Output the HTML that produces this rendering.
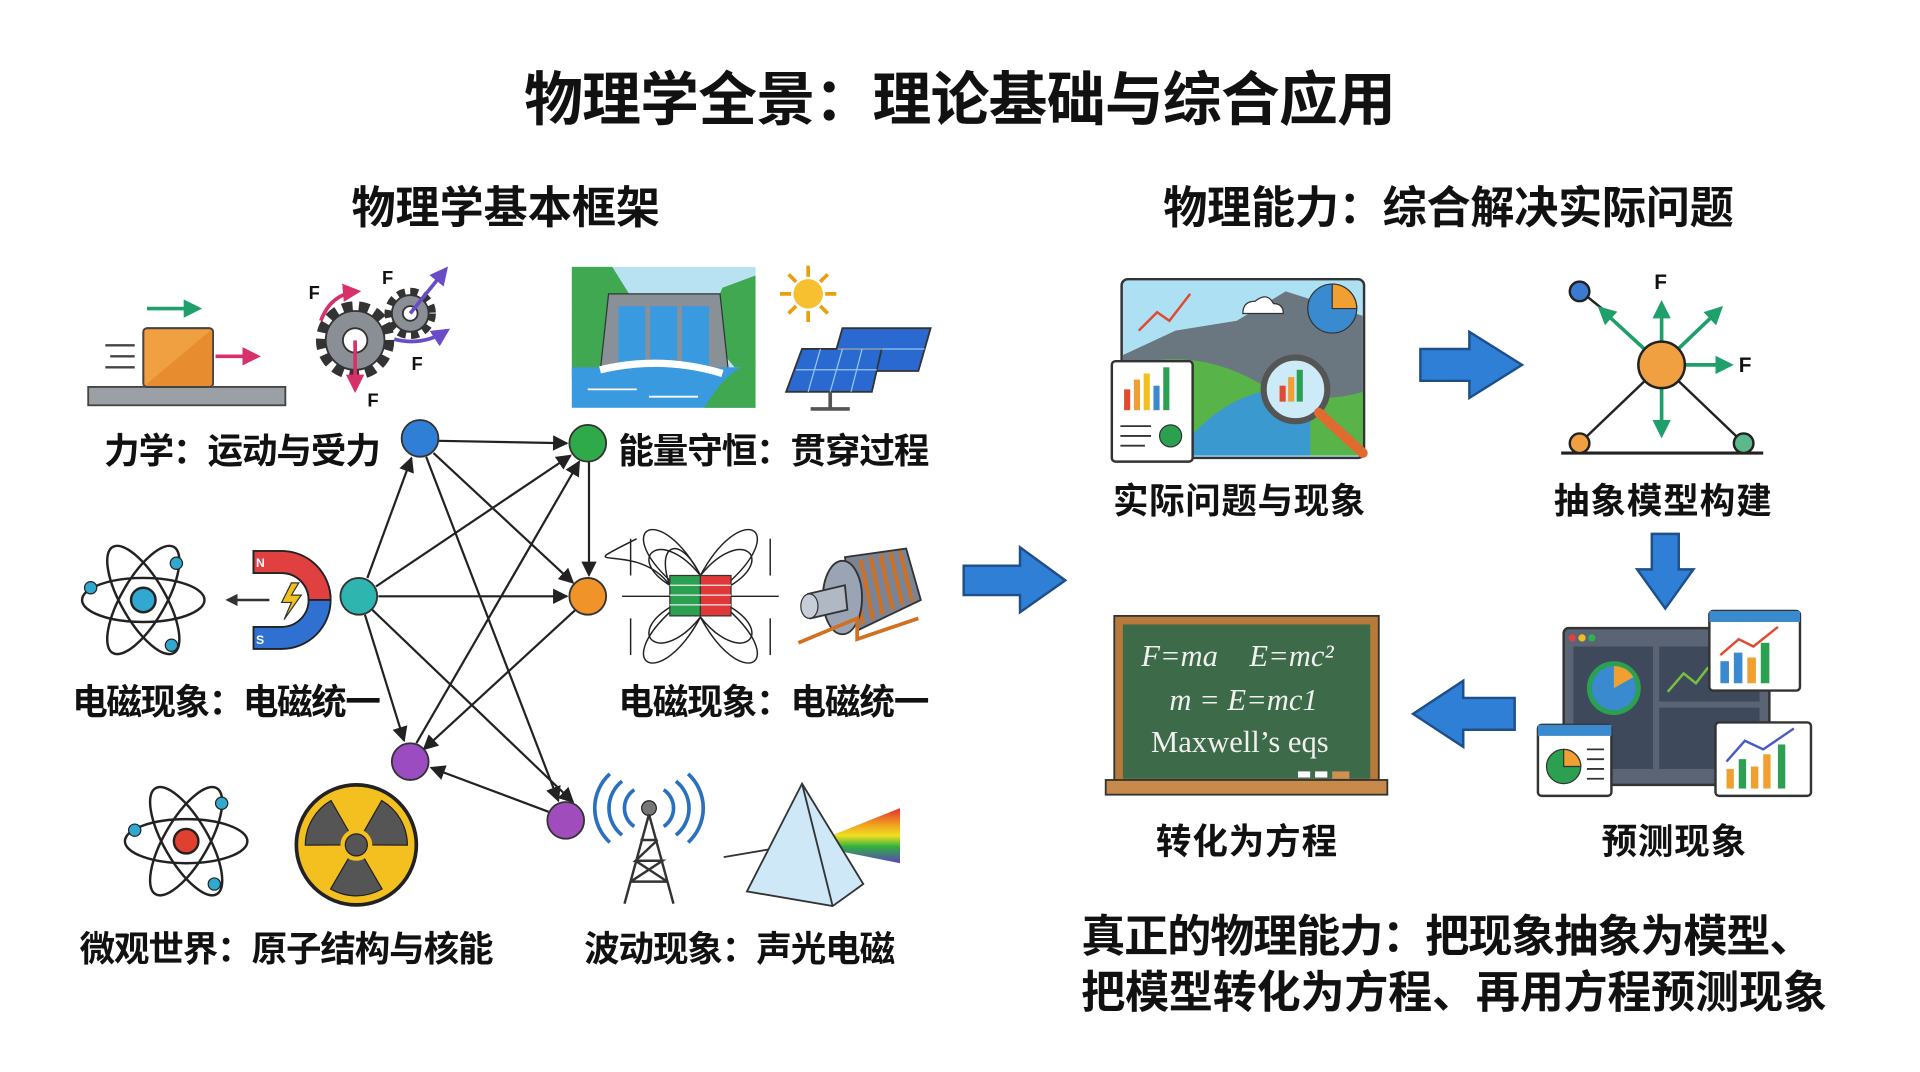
<!DOCTYPE html>
<html><head><meta charset="utf-8"><style>
html,body{margin:0;padding:0;background:#fff;}
svg{display:block;}
text{font-family:"Liberation Sans","Noto Sans CJK SC",sans-serif;font-weight:700;fill:#111;}
text.ser{font-family:"Liberation Serif",serif;font-weight:400;fill:#f0f0f0;}
</style></head><body>
<svg width="1920" height="1072" viewBox="0 0 1568 875.5" xmlns="http://www.w3.org/2000/svg">
<defs>
<marker id="ah" viewBox="0 0 10 10" refX="9" refY="5" markerWidth="7" markerHeight="7" orient="auto-start-reverse"><path d="M0,0L10,5L0,10z" fill="#222"/></marker>
<marker id="ag" viewBox="0 0 10 10" refX="8" refY="5" markerWidth="5" markerHeight="5" orient="auto"><path d="M0,0L10,5L0,10z" fill="#1fa06a"/></marker>
<marker id="ap" viewBox="0 0 10 10" refX="8" refY="5" markerWidth="5" markerHeight="5" orient="auto"><path d="M0,0L10,5L0,10z" fill="#d8306a"/></marker>
<marker id="av" viewBox="0 0 10 10" refX="8" refY="5" markerWidth="5" markerHeight="5" orient="auto"><path d="M0,0L10,5L0,10z" fill="#6a4cc8"/></marker>
<marker id="ak" viewBox="0 0 10 10" refX="8" refY="5" markerWidth="5" markerHeight="5" orient="auto"><path d="M0,0L10,5L0,10z" fill="#333"/></marker>
<linearGradient id="rb" x1="0" y1="0" x2="0" y2="1"><stop offset="0" stop-color="#e03030"/><stop offset="0.3" stop-color="#f0a020"/><stop offset="0.5" stop-color="#f0e020"/><stop offset="0.7" stop-color="#30b040"/><stop offset="1" stop-color="#6040c0"/></linearGradient>
</defs>
<rect width="1568" height="876" fill="#fff"/>

<text x="784" y="98" font-size="48" text-anchor="middle" textLength="712">物理学全景：理论基础与综合应用</text>
<text x="413" y="182" font-size="36" text-anchor="middle" textLength="252">物理学基本框架</text>
<text x="1183" y="182" font-size="36" text-anchor="middle" textLength="466">物理能力：综合解决实际问题</text>

<g font-size="29">
<text x="198" y="378" text-anchor="middle" textLength="226">力学：运动与受力</text>
<text x="632" y="378" text-anchor="middle" textLength="254">能量守恒：贯穿过程</text>
<text x="185" y="583" text-anchor="middle" textLength="252">电磁现象：电磁统一</text>
<text x="632" y="583" text-anchor="middle" textLength="254">电磁现象：电磁统一</text>
<text x="234" y="785" text-anchor="middle" textLength="338">微观世界：原子结构与核能</text>
<text x="604" y="785" text-anchor="middle" textLength="254">波动现象：声光电磁</text>
</g>

<g stroke="#222" stroke-width="1.8" fill="none" marker-end="url(#ah)">
<line x1="358" y1="360" x2="463" y2="362"/>
<line x1="354" y1="370" x2="468" y2="476"/>
<line x1="348" y1="373" x2="456" y2="654"/>
<line x1="300" y1="472" x2="336" y2="374"/>
<line x1="307" y1="479" x2="466" y2="372"/>
<line x1="309" y1="487" x2="463" y2="487"/>
<line x1="298" y1="502" x2="330" y2="605"/>
<line x1="304" y1="498" x2="468" y2="655"/>
<line x1="481" y1="377" x2="481" y2="470"/>
<line x1="340" y1="607" x2="473" y2="377"/>
<line x1="470" y1="498" x2="346" y2="612"/>
<line x1="448" y1="663" x2="352" y2="627"/>
</g>
<g stroke="#333" stroke-width="1.5">
<circle cx="343" cy="358" r="15" fill="#2f7fd6"/>
<circle cx="480" cy="362" r="15" fill="#2faa4a"/>
<circle cx="293" cy="487" r="15" fill="#2fb5b0"/>
<circle cx="480" cy="487" r="15" fill="#f0942a"/>
<circle cx="335" cy="622" r="15" fill="#9a4cc0"/>
<circle cx="462" cy="670" r="15" fill="#a04cbc"/>
</g>

<!-- Block -->
<rect x="72" y="316" width="161" height="15" fill="#9aa0a6" stroke="#444" stroke-width="1.5"/>
<rect x="117" y="268" width="57" height="48" rx="3" fill="#f0a040" stroke="#444" stroke-width="1.5"/>
<path d="M117,316 L174,268 L174,316Z" fill="#e88c30"/>
<rect x="117" y="268" width="57" height="48" rx="3" fill="none" stroke="#444" stroke-width="1.5"/>
<g stroke="#444" stroke-width="2"><line x1="86" y1="282" x2="110" y2="282"/><line x1="90" y1="291" x2="110" y2="291"/><line x1="86" y1="300" x2="110" y2="300"/></g>
<line x1="120" y1="252" x2="162" y2="252" stroke="#1fa06a" stroke-width="3" marker-end="url(#ag)"/>
<line x1="176" y1="291" x2="210" y2="291" stroke="#d8306a" stroke-width="3" marker-end="url(#ap)"/>

<!-- Gears -->
<g fill="#8a8f96" stroke="#333" stroke-width="1.5">
<circle cx="290" cy="278" r="27" stroke-dasharray="8 5" stroke-width="10" fill="none"/>
<circle cx="290" cy="278" r="24"/>
<circle cx="290" cy="278" r="10" fill="#fff"/>
<circle cx="335" cy="256" r="17" stroke-dasharray="6 4" stroke-width="8" fill="none"/>
<circle cx="335" cy="256" r="15"/>
<circle cx="335" cy="256" r="6" fill="#fff"/>
</g>
<path d="M262,262 Q270,240 292,238" stroke="#d8306a" stroke-width="3" fill="none" marker-end="url(#ap)"/>
<line x1="290" y1="278" x2="290" y2="318" stroke="#d8306a" stroke-width="3" marker-end="url(#ap)"/>
<line x1="335" y1="256" x2="364" y2="220" stroke="#6a4cc8" stroke-width="3" marker-end="url(#av)"/>
<path d="M322,277 Q345,283 365,270" stroke="#6a4cc8" stroke-width="3" fill="none" marker-end="url(#av)"/>
<g font-size="15"><text x="252" y="244">F</text><text x="312" y="232">F</text><text x="336" y="302">F</text><text x="300" y="332">F</text></g>

<!-- Dam -->
<rect x="467" y="218" width="150" height="115" fill="#b8e2f2"/>
<path d="M467,218 L500,218 L520,250 L500,300 L467,310Z" fill="#3fa850"/>
<path d="M617,225 L590,235 L575,270 L600,300 L617,300Z" fill="#3fa850"/>
<path d="M497,240 L588,240 L595,305 L490,305Z" fill="#8a9098" stroke="#333"/>
<rect x="505" y="250" width="22" height="50" fill="#3a9ae0"/><rect x="531" y="250" width="22" height="50" fill="#3a9ae0"/><rect x="557" y="250" width="22" height="50" fill="#3a9ae0"/>
<rect x="467" y="300" width="150" height="33" fill="#3a9ae0"/>
<path d="M490,302 Q540,290 590,305" stroke="#fff" stroke-width="6" fill="none"/>
<g stroke="#fff" stroke-width="1.5"><line x1="480" y1="318" x2="520" y2="318"/><line x1="530" y1="324" x2="570" y2="324"/></g>
<path d="M575,333 Q595,300 617,295 L617,333Z" fill="#3fa850"/>

<!-- Sun & solar -->
<g stroke="#e8a010" stroke-width="3"><line x1="660" y1="217" x2="660" y2="263"/><line x1="637" y1="240" x2="683" y2="240"/><line x1="644" y1="224" x2="676" y2="256"/><line x1="676" y1="224" x2="644" y2="256"/></g>
<circle cx="660" cy="240" r="13" fill="#f6c030" stroke="#fff" stroke-width="2"/>
<path d="M688,268 L760,268 L750,303 L678,303Z" fill="#2a6ad0" stroke="#333" stroke-width="1.5"/>
<path d="M655,285 L720,285 L712,320 L642,320Z" fill="#2a6ad0" stroke="#333" stroke-width="1.5"/>
<g stroke="#9cc4f0" stroke-width="1"><line x1="650" y1="302" x2="716" y2="302"/><line x1="670" y1="285" x2="660" y2="320"/><line x1="688" y1="285" x2="678" y2="320"/><line x1="704" y1="285" x2="695" y2="320"/><line x1="684" y1="285" x2="755" y2="285"/></g>
<line x1="678" y1="320" x2="678" y2="333" stroke="#555" stroke-width="3"/><line x1="662" y1="334" x2="694" y2="334" stroke="#555" stroke-width="3"/>

<!-- Atom 1 -->
<g fill="none" stroke="#222" stroke-width="2">
<ellipse cx="117" cy="490" rx="50" ry="18"/>
<ellipse cx="117" cy="490" rx="50" ry="18" transform="rotate(60 117 490)"/>
<ellipse cx="117" cy="490" rx="50" ry="18" transform="rotate(120 117 490)"/>
</g>
<circle cx="117" cy="490" r="10" fill="#30a8d0" stroke="#222" stroke-width="2"/>
<circle cx="74" cy="480" r="5" fill="#30a8d0" stroke="#222"/><circle cx="144" cy="460" r="5" fill="#30a8d0" stroke="#222"/><circle cx="140" cy="527" r="5" fill="#30a8d0" stroke="#222"/>

<!-- Magnet -->
<path d="M207,450 L230,450 A40,40 0 0 1 230,530 L207,530 L207,512 L230,512 A22,22 0 0 0 230,468 L207,468Z" fill="#3070d0" stroke="#222" stroke-width="1.5"/>
<path d="M207,450 L230,450 A40,40 0 0 1 270,490 L252,490 A22,22 0 0 0 230,468 L207,468Z" fill="#e04040" stroke="#222" stroke-width="1.5"/>
<text x="209" y="463" font-size="10" style="fill:#fff">N</text><text x="209" y="526" font-size="10" style="fill:#fff">S</text>
<path d="M238,476 L230,492 L238,492 L232,506 L246,486 L238,486 L244,476Z" fill="#f0c020" stroke="#333"/>
<line x1="220" y1="490" x2="186" y2="490" stroke="#333" stroke-width="2" marker-end="url(#ak)"/>

<!-- Field lines -->
<g fill="none" stroke="#222" stroke-width="1.2">
<path d="M547,478 C520,440 460,470 520,440 M547,478 C535,445 555,435 572,470"/>
<path d="M547,478 C510,455 540,430 572,470 C604,430 634,455 597,478"/>
<path d="M547,496 C510,519 540,544 572,504 C604,544 634,519 597,496"/>
<path d="M547,474 C500,430 540,410 572,470 C604,410 644,430 597,474"/>
<path d="M547,500 C500,544 540,564 572,504 C604,564 644,544 597,500"/>
<line x1="508" y1="487" x2="547" y2="487"/><line x1="597" y1="487" x2="636" y2="487"/>
<line x1="515" y1="440" x2="515" y2="470"/><line x1="629" y1="440" x2="629" y2="470"/>
<line x1="515" y1="505" x2="515" y2="535"/><line x1="629" y1="505" x2="629" y2="535"/>
</g>
<rect x="547" y="470" width="25" height="33" fill="#2aa050" stroke="#333"/><rect x="572" y="470" width="25" height="33" fill="#e03838" stroke="#333"/>
<g stroke="#eee" stroke-width="1"><line x1="547" y1="478" x2="597" y2="478"/><line x1="547" y1="486" x2="597" y2="486"/><line x1="547" y1="494" x2="597" y2="494"/></g>

<!-- Motor -->
<path d="M690,455 L740,448 L752,490 L700,515Z" fill="#7a8494" stroke="#333" stroke-width="1.5"/>
<g stroke="#d07020" stroke-width="3" fill="none"><line x1="695" y1="460" x2="705" y2="510"/><line x1="703" y1="457" x2="713" y2="506"/><line x1="711" y1="455" x2="721" y2="502"/><line x1="719" y1="453" x2="729" y2="498"/><line x1="727" y1="451" x2="737" y2="494"/><line x1="735" y1="450" x2="745" y2="491"/></g>
<ellipse cx="688" cy="488" rx="16" ry="30" fill="#9aa4b4" stroke="#333" stroke-width="1.5"/>
<path d="M660,485 L690,478 L692,498 L662,505Z" fill="#b0b8c4" stroke="#333" stroke-width="1.5"/>
<ellipse cx="661" cy="495" rx="7" ry="10" fill="#c8ced8" stroke="#333"/>
<path d="M652,525 L700,505 L700,522 L750,505" stroke="#d07020" stroke-width="3" fill="none"/>

<!-- Atom 2 -->
<g fill="none" stroke="#222" stroke-width="2">
<ellipse cx="152" cy="687" rx="50" ry="18"/>
<ellipse cx="152" cy="687" rx="50" ry="18" transform="rotate(60 152 687)"/>
<ellipse cx="152" cy="687" rx="50" ry="18" transform="rotate(120 152 687)"/>
</g>
<circle cx="152" cy="687" r="10" fill="#e04030" stroke="#222" stroke-width="2"/>
<circle cx="110" cy="678" r="5" fill="#30a8d0" stroke="#222"/><circle cx="181" cy="656" r="5" fill="#30a8d0" stroke="#222"/><circle cx="175" cy="722" r="5" fill="#30a8d0" stroke="#222"/>

<!-- Radiation -->
<circle cx="291" cy="690" r="49" fill="#f4c020" stroke="#222" stroke-width="3"/>
<g fill="#555" stroke="#222">
<path d="M291,690 L270,654 A42,42 0 0 1 312,654Z" transform="rotate(-60 291 690)"/>
<path d="M291,690 L270,654 A42,42 0 0 1 312,654Z" transform="rotate(60 291 690)"/>
<path d="M291,690 L270,654 A42,42 0 0 1 312,654Z" transform="rotate(180 291 690)"/>
</g>
<circle cx="291" cy="690" r="13" fill="#f4c020"/><circle cx="291" cy="690" r="9" fill="#555" stroke="#222"/>

<!-- Antenna -->
<g fill="none" stroke="#2a70c0" stroke-width="3">
<path d="M518,645 A18,18 0 0 0 518,675"/><path d="M542,645 A18,18 0 0 1 542,675"/>
<path d="M508,638 A28,28 0 0 0 508,682"/><path d="M552,638 A28,28 0 0 1 552,682"/>
<path d="M498,632 A38,38 0 0 0 498,688"/><path d="M562,632 A38,38 0 0 1 562,688"/>
</g>
<circle cx="530" cy="660" r="6" fill="#777" stroke="#222"/>
<g stroke="#333" stroke-width="2" fill="none"><path d="M530,665 L510,738 M530,665 L550,738 M515,720 L545,720 M519,703 L541,703 M523,686 L537,686 M515,720 L541,703 L519,703 L537,686 M545,720 L519,703"/></g>

<!-- Prism -->
<path d="M591,700 L650,690" stroke="#333" stroke-width="1.5"/>
<path d="M660,690 L735,660 L735,705Z" fill="url(#rb)"/>
<path d="M655,640 L610,728 L680,740 L705,722Z" fill="#cfe8f8" stroke="#333" stroke-width="1.5"/>
<path d="M655,640 L680,740" stroke="#333" stroke-width="1.5"/>

<path d="M787,462 L833,462 L833,447 L870,474 L833,500 L833,486 L787,486Z" fill="#2f7fd6" stroke="#1d4f8a" stroke-width="2"/>

<!-- Right image 1 -->
<rect x="916" y="228" width="198" height="146" rx="5" fill="#aee0f4" stroke="#333" stroke-width="2"/>
<path d="M917,290 L960,270 L1010,262 L1050,238 L1113,258 L1113,372 L917,372Z" fill="#6a7680"/>
<path d="M917,300 Q980,280 1040,320 Q1080,330 1113,320 L1113,372 L917,372Z" fill="#58b448"/>
<path d="M960,372 Q990,330 1030,320 Q1060,310 1070,340 L1070,372Z" fill="#3a9ad0"/>
<polyline points="930,270 945,255 955,262 972,240" stroke="#e04a30" stroke-width="2" fill="none"/>
<circle cx="1088" cy="252" r="20" fill="#3a8ad0" stroke="#333"/><path d="M1088,252 L1088,232 A20,20 0 0 1 1108,252Z" fill="#f0a030" stroke="#333"/>
<path d="M1015,256 Q1015,246 1025,246 Q1035,238 1040,248 Q1048,248 1048,256Z" fill="#fff" stroke="#333"/>
<circle cx="1058" cy="318" r="26" fill="#cdeaf8" stroke="#555" stroke-width="5"/>
<rect x="1045" y="315" width="5" height="13" fill="#e04a30"/><rect x="1052" y="308" width="5" height="20" fill="#f0a030"/><rect x="1059" y="302" width="5" height="26" fill="#2aa050"/>
<line x1="1077" y1="337" x2="1113" y2="370" stroke="#e06a30" stroke-width="8" stroke-linecap="round"/>
<rect x="908" y="295" width="66" height="82" rx="3" fill="#fff" stroke="#333" stroke-width="2"/>
<g><rect x="918" y="318" width="5" height="17" fill="#e04a30"/><rect x="926" y="310" width="5" height="25" fill="#f0a030"/><rect x="934" y="305" width="5" height="30" fill="#f0c020"/><rect x="942" y="315" width="5" height="20" fill="#3a8ad0"/><rect x="950" y="300" width="5" height="35" fill="#2aa050"/></g>
<circle cx="956" cy="356" r="9" fill="#2aa050" stroke="#333"/>
<g stroke="#333" stroke-width="1.5"><line x1="915" y1="348" x2="940" y2="348"/><line x1="915" y1="356" x2="940" y2="356"/><line x1="915" y1="364" x2="935" y2="364"/></g>
<text x="1012" y="419" font-size="29" text-anchor="middle" textLength="206">实际问题与现象</text>

<path d="M1160,285 L1200,285 L1200,271 L1243,298 L1200,325 L1200,311 L1160,311Z" fill="#2f7fd6" stroke="#1d4f8a" stroke-width="2"/>

<!-- Model -->
<line x1="1275" y1="370" x2="1440" y2="370" stroke="#222" stroke-width="2.5"/>
<line x1="1290" y1="362" x2="1357" y2="298" stroke="#222" stroke-width="2"/>
<line x1="1424" y1="362" x2="1357" y2="298" stroke="#222" stroke-width="2"/>
<line x1="1291" y1="238" x2="1312" y2="255" stroke="#222" stroke-width="2"/>
<g stroke="#1fa06a" stroke-width="3" marker-end="url(#ag)">
<line x1="1357" y1="298" x2="1357" y2="248"/><line x1="1357" y1="298" x2="1357" y2="355"/>
<line x1="1357" y1="298" x2="1307" y2="252"/><line x1="1357" y1="298" x2="1405" y2="252"/>
<line x1="1357" y1="298" x2="1413" y2="298"/>
</g>
<circle cx="1357" cy="298" r="19" fill="#f0a040" stroke="#222" stroke-width="2"/>
<circle cx="1290" cy="238" r="8" fill="#3a7ad0" stroke="#222" stroke-width="2"/>
<circle cx="1290" cy="362" r="8" fill="#f0a040" stroke="#222" stroke-width="2"/>
<circle cx="1424" cy="362" r="8" fill="#5ab88a" stroke="#222" stroke-width="2"/>
<text x="1351" y="236" font-size="17">F</text><text x="1420" y="304" font-size="17">F</text>
<text x="1358" y="419" font-size="29" text-anchor="middle" textLength="178">抽象模型构建</text>

<path d="M1349,436 L1371,436 L1371,465 L1383,465 L1360,497 L1337,465 L1349,465Z" fill="#2f7fd6" stroke="#1d4f8a" stroke-width="2"/>

<!-- Chalkboard -->
<rect x="910" y="503" width="216" height="140" fill="#b87a3a" stroke="#333" stroke-width="1.5"/>
<rect x="917" y="510" width="202" height="126" fill="#3d6a48"/>
<rect x="903" y="637" width="230" height="12" fill="#c88a4a" stroke="#333" stroke-width="1.5"/>
<rect x="1060" y="630" width="10" height="5" fill="#fff"/><rect x="1074" y="630" width="10" height="5" fill="#fff"/><rect x="1088" y="630" width="14" height="6" fill="#d09050"/>
<text class="ser" x="932" y="544" font-size="25" font-style="italic">F=ma⃗   E=mc²</text>
<text class="ser" x="955" y="580" font-size="25" font-style="italic">m = E=mc1</text>
<text class="ser" x="940" y="614" font-size="25">Maxwell’s eqs</text>
<text x="1018" y="697" font-size="29" text-anchor="middle" textLength="148">转化为方程</text>

<path d="M1237,570 L1195,570 L1195,556 L1154,583 L1195,610 L1195,596 L1237,596Z" fill="#2f7fd6" stroke="#1d4f8a" stroke-width="2"/>

<!-- Dashboard -->
<rect x="1277" y="513" width="168" height="128" rx="4" fill="#5a6474" stroke="#333" stroke-width="2"/>
<rect x="1285" y="528" width="65" height="100" fill="#3e4a5c"/><rect x="1355" y="528" width="82" height="45" fill="#3e4a5c"/><rect x="1355" y="578" width="82" height="50" fill="#3e4a5c"/>
<circle cx="1284" cy="521" r="3" fill="#e04040"/><circle cx="1292" cy="521" r="3" fill="#f0c020"/><circle cx="1300" cy="521" r="3" fill="#30b050"/>
<circle cx="1318" cy="562" r="20" fill="#3a8ad0" stroke="#2aa050" stroke-width="4"/><path d="M1318,562 L1318,544 A18,18 0 0 1 1334,553Z" fill="#f0a030"/>
<polyline points="1362,565 1375,550 1385,558 1395,545" stroke="#7ac040" stroke-width="2" fill="none"/>
<rect x="1396" y="499" width="74" height="65" rx="3" fill="#fff" stroke="#333" stroke-width="2"/><rect x="1396" y="499" width="74" height="9" fill="#3a8ad0"/>
<rect x="1405" y="540" width="7" height="18" fill="#3a8ad0"/><rect x="1416" y="533" width="7" height="25" fill="#3a8ad0"/><rect x="1427" y="537" width="7" height="21" fill="#f0a030"/><rect x="1438" y="525" width="7" height="33" fill="#2aa050"/>
<polyline points="1405,535 1420,522 1432,528 1452,512" stroke="#e04a30" stroke-width="2" fill="none"/>
<rect x="1256" y="592" width="60" height="58" rx="3" fill="#fff" stroke="#333" stroke-width="2"/><rect x="1256" y="592" width="60" height="9" fill="#3a8ad0"/>
<circle cx="1277" cy="626" r="14" fill="#2aa050" stroke="#333"/><path d="M1277,626 L1277,612 A14,14 0 0 1 1291,626Z" fill="#f0a030" stroke="#333"/>
<g stroke="#333" stroke-width="1.5"><line x1="1296" y1="612" x2="1310" y2="612"/><line x1="1296" y1="620" x2="1310" y2="620"/><line x1="1296" y1="628" x2="1310" y2="628"/><line x1="1296" y1="636" x2="1310" y2="636"/></g>
<rect x="1401" y="590" width="78" height="60" rx="3" fill="#fff" stroke="#333" stroke-width="2"/>
<rect x="1410" y="628" width="6" height="16" fill="#f0a030"/><rect x="1420" y="620" width="6" height="24" fill="#2aa050"/><rect x="1430" y="626" width="6" height="18" fill="#f0a030"/><rect x="1440" y="616" width="6" height="28" fill="#f0a030"/><rect x="1452" y="608" width="6" height="36" fill="#2aa050"/>
<polyline points="1410,622 1425,605 1440,612 1465,595" stroke="#4a5ac8" stroke-width="2" fill="none"/>
<text x="1367" y="697" font-size="29" text-anchor="middle" textLength="118">预测现象</text>

<text x="883" y="777" font-size="36" textLength="598">真正的物理能力：把现象抽象为模型、</text>
<text x="883" y="823" font-size="36" textLength="609">把模型转化为方程、再用方程预测现象</text>
</svg>
</body></html>
